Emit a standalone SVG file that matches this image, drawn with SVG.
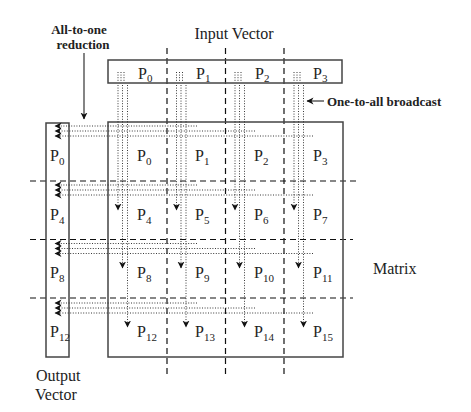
<svg xmlns="http://www.w3.org/2000/svg" width="471" height="412" viewBox="0 0 471 412">
<style>
.box{fill:none;stroke:#444;stroke-width:1.5}
.dash{stroke:#111;stroke-width:1.2;stroke-dasharray:6 4;fill:none}
.dot{stroke:#222;stroke-width:0.9;stroke-dasharray:1 1.6;fill:none}
.solid{stroke:#333;stroke-width:1.2;fill:none}
.t{font-family:"Liberation Serif",serif;fill:#222}
.p{font-family:"Liberation Serif",serif;font-size:16px;fill:#222}
.s{font-size:11px}
.b{font-family:"Liberation Serif",serif;font-weight:bold;font-size:13px;fill:#222}
</style>
<defs>
<marker id="ah" markerUnits="userSpaceOnUse" markerWidth="8" markerHeight="8" refX="6.5" refY="3.5" orient="auto">
<path d="M0,0 L7,3.5 L0,7 L2,3.5 z" fill="#111"/>
</marker>
</defs>
<rect width="471" height="412" fill="#fff"/>

<g id="partition">
<path class="dash" d="M167,48V375M225.5,48V375M284,48V375"/>
<path class="dash" d="M30,181H357M30,239.5H353M30,298H353"/>
</g>

<g id="input-vector">
<rect class="box" x="108" y="60" width="234" height="23"/>
<text class="p" x="138" y="79">P<tspan class="s" dy="3">0</tspan></text>
<text class="p" x="196" y="79">P<tspan class="s" dy="3">1</tspan></text>
<text class="p" x="255" y="79">P<tspan class="s" dy="3">2</tspan></text>
<text class="p" x="313" y="79">P<tspan class="s" dy="3">3</tspan></text>
</g>

<g id="output-vector">
<rect class="box" x="46" y="123" width="23" height="234"/>
<text class="p" x="50" y="161">P<tspan class="s" dy="4">0</tspan></text>
<text class="p" x="50" y="220">P<tspan class="s" dy="4">4</tspan></text>
<text class="p" x="50" y="278">P<tspan class="s" dy="4">8</tspan></text>
<text class="p" x="50" y="337">P<tspan class="s" dy="4">12</tspan></text>
</g>

<g id="matrix">
<rect class="box" x="108" y="122" width="235" height="235"/>
<g id="row0">
<text class="p" x="137" y="161">P<tspan class="s" dy="4">0</tspan></text>
<text class="p" x="195" y="161">P<tspan class="s" dy="4">1</tspan></text>
<text class="p" x="254" y="161">P<tspan class="s" dy="4">2</tspan></text>
<text class="p" x="313" y="161">P<tspan class="s" dy="4">3</tspan></text>
</g>
<g id="row1">
<text class="p" x="137" y="220">P<tspan class="s" dy="4">4</tspan></text>
<text class="p" x="195" y="220">P<tspan class="s" dy="4">5</tspan></text>
<text class="p" x="254" y="220">P<tspan class="s" dy="4">6</tspan></text>
<text class="p" x="313" y="220">P<tspan class="s" dy="4">7</tspan></text>
</g>
<g id="row2">
<text class="p" x="137" y="278">P<tspan class="s" dy="4">8</tspan></text>
<text class="p" x="195" y="278">P<tspan class="s" dy="4">9</tspan></text>
<text class="p" x="254" y="278">P<tspan class="s" dy="4">10</tspan></text>
<text class="p" x="313" y="278">P<tspan class="s" dy="4">11</tspan></text>
</g>
<g id="row3">
<text class="p" x="137" y="337">P<tspan class="s" dy="4">12</tspan></text>
<text class="p" x="195" y="337">P<tspan class="s" dy="4">13</tspan></text>
<text class="p" x="254" y="337">P<tspan class="s" dy="4">14</tspan></text>
<text class="p" x="313" y="337">P<tspan class="s" dy="4">15</tspan></text>
</g>
</g>

<g id="connectors">
<path class="dot" d="M118,72V81M121,72V81M124,72V81M176.5,72V81M179.5,72V81M182.5,72V81M235,72V81M238,72V81M241,72V81M294,72V81M297,72V81M300,72V81"/>
<path class="dot" d="M118,85V210" marker-end="url(#ah)"/>
<path class="dot" d="M122.5,85V268" marker-end="url(#ah)"/>
<path class="dot" d="M127.5,85V327" marker-end="url(#ah)"/>
<path class="dot" d="M176.5,85V210" marker-end="url(#ah)"/>
<path class="dot" d="M181,85V268" marker-end="url(#ah)"/>
<path class="dot" d="M186,85V327" marker-end="url(#ah)"/>
<path class="dot" d="M235,85V210" marker-end="url(#ah)"/>
<path class="dot" d="M239.5,85V268" marker-end="url(#ah)"/>
<path class="dot" d="M244.5,85V327" marker-end="url(#ah)"/>
<path class="dot" d="M294,85V210" marker-end="url(#ah)"/>
<path class="dot" d="M298.5,85V268" marker-end="url(#ah)"/>
<path class="dot" d="M303.5,85V327" marker-end="url(#ah)"/>

<path class="dot" d="M197,126H55" marker-end="url(#ah)"/>
<path class="dot" d="M255,131H55" marker-end="url(#ah)"/>
<path class="dot" d="M313,136H55" marker-end="url(#ah)"/>
<path class="dot" d="M197,185H55" marker-end="url(#ah)"/>
<path class="dot" d="M255,190H55" marker-end="url(#ah)"/>
<path class="dot" d="M313,195H55" marker-end="url(#ah)"/>
<path class="dot" d="M197,243.5H55" marker-end="url(#ah)"/>
<path class="dot" d="M255,248.5H55" marker-end="url(#ah)"/>
<path class="dot" d="M313,253.5H55" marker-end="url(#ah)"/>
<path class="dot" d="M197,303H55" marker-end="url(#ah)"/>
<path class="dot" d="M255,308H55" marker-end="url(#ah)"/>
<path class="dot" d="M313,313H55" marker-end="url(#ah)"/>

<path class="solid" d="M84,53V119" marker-end="url(#ah)"/>
<path class="solid" d="M324,101H307" marker-end="url(#ah)"/>
</g>

<g id="labels">
<text class="b" x="79" y="34" text-anchor="middle">All-to-one</text>
<text class="b" x="83" y="49" text-anchor="middle">reduction</text>
<text class="t" x="234" y="39" font-size="16" text-anchor="middle">Input Vector</text>
<text class="b" x="327" y="106" font-size="13.5">One-to-all broadcast</text>
<text class="t" x="373" y="274" font-size="16">Matrix</text>
<text class="t" x="36" y="381" font-size="16">Output</text>
<text class="t" x="35" y="400" font-size="16">Vector</text>
</g>
</svg>
